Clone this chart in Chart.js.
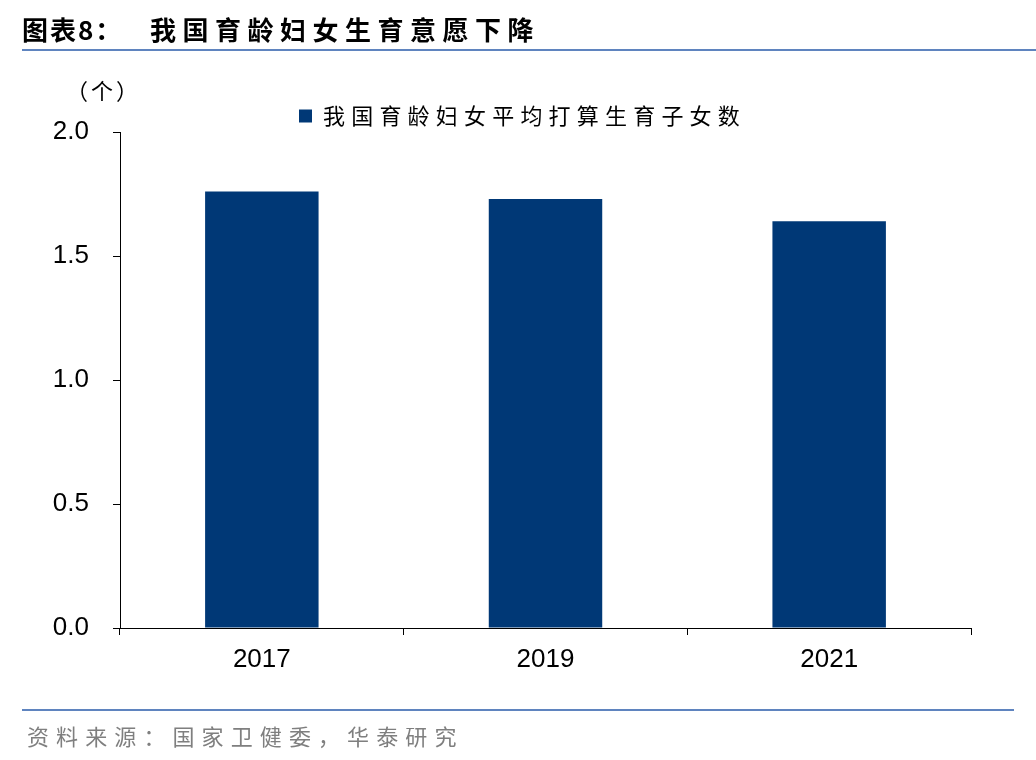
<!DOCTYPE html>
<html><head><meta charset="utf-8">
<script src="https://cdn.jsdelivr.net/npm/chart.js@4.4.1/dist/chart.umd.min.js"></script>
<style>
html,body{margin:0;padding:0;background:#fff;}
#wrap{position:relative;width:1036px;height:760px;overflow:hidden;}
#c{position:absolute;left:0;top:0;}
.t{position:absolute;white-space:nowrap;}
#title1{left:22px;top:10px;font:700 26px "Noto Sans CJK SC";color:#000;letter-spacing:2px;}
#title2{left:150px;top:10px;font:700 26px "Noto Sans CJK SC";color:#000;letter-spacing:6.5px;}
#hl{position:absolute;left:22px;top:49px;width:1014px;height:2px;background:#5f84bf;}
#fl{position:absolute;left:22px;top:709px;width:992px;height:2px;background:#5f84bf;}
#src{left:27px;top:719px;font:400 22px "Noto Sans CJK SC";color:#7f7f7f;letter-spacing:7.1px;}
#unit{left:66px;top:73px;font:400 22px "Noto Sans CJK SC";color:#000;letter-spacing:3px;}
</style></head>
<body><div id="wrap">
<canvas id="c" width="1036" height="760"></canvas>
<div class="t" id="title1">图表8：</div>
<div class="t" id="title2">我国育龄妇女生育意愿下降</div>
<div id="hl"></div>
<div id="fl"></div>
<div class="t" id="unit">（个）</div>
<div class="t" id="src">资料来源：国家卫健委，华泰研究</div>
</div>
<script>
const categories = ['2017', '2019', '2021'];
const seriesName = '我国育龄妇女平均打算生育子女数';
const seriesValues = [1.76, 1.73, 1.64];
const yTicks = [0, 0.5, 1.0, 1.5, 2.0];

const legendSpacing = {
  id: 'legendSpacing',
  afterInit(chart) {
    const lg = chart.legend;
    if (!lg || lg._wrapped) return;
    lg._wrapped = true;
    const of = lg.fit.bind(lg), od = lg.draw.bind(lg);
    lg.fit = function () {
      const c = this.ctx; c.save(); c.letterSpacing = '6.2px';
      of(); c.restore();
      this.height = 27;
    };
    lg.draw = function () {
      const c = this.ctx; c.save(); c.letterSpacing = '6.2px';
      c.translate(37, 0);
      od(); c.restore();
    };
  }
};

new Chart(document.getElementById('c'), {
  type: 'bar',
  data: {
    labels: categories,
    datasets: [{
      label: seriesName,
      data: seriesValues,
      backgroundColor: '#003876',
      borderWidth: 0,
      categoryPercentage: 1,
      barPercentage: 0.4
    }]
  },
  options: {
    responsive: false,
    devicePixelRatio: 1,
    animation: false,
    layout: { padding: { top: 105, right: 65, left: 0, bottom: 0 } },
    plugins: {
      legend: {
        display: true,
        position: 'top',
        labels: {
          boxWidth: 13, boxHeight: 13, padding: 0,
          color: '#000',
          font: { family: '"Noto Sans CJK SC"', size: 22 }
        }
      },
      tooltip: { enabled: false }
    },
    scales: {
      x: {
        grid: { display: true, offset: true, drawOnChartArea: false, drawTicks: true, tickLength: 7, color: '#000', lineWidth: 1 },
        border: { display: true, color: '#000', width: 1 },
        ticks: { color: '#000', padding: 9, font: { family: '"Liberation Sans"', size: 26 } },
        afterFit(s) { s.height = 132; }
      },
      y: {
        min: 0, max: 2.0,
        afterBuildTicks(s) { s.ticks = yTicks.map(v => ({ value: v })); },
        grid: { display: true, drawOnChartArea: false, drawTicks: true, tickLength: 7, color: '#000', lineWidth: 1 },
        border: { display: true, color: '#000', width: 1 },
        ticks: { color: '#000', padding: 24, font: { family: '"Liberation Sans"', size: 26 },
          callback: v => Number(v).toFixed(1) },
        afterFit(s) { s.width = 120; }
      }
    }
  },
  plugins: [legendSpacing]
});
</script>
</body></html>
